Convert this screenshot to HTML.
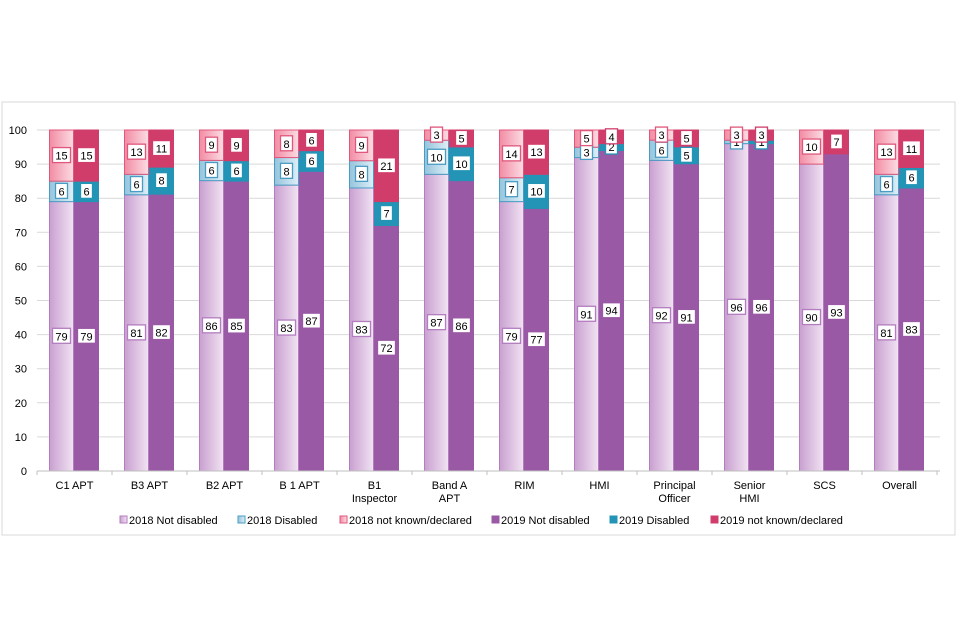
<!DOCTYPE html>
<html><head><meta charset="utf-8">
<style>
html,body{margin:0;padding:0;background:#fff;}
svg{display:block;font-family:"Liberation Sans","DejaVu Sans",sans-serif;}
</style></head>
<body>
<svg id="chart" width="960" height="640" viewBox="0 0 960 640">
<defs>
<linearGradient id="g18nd" x1="0" x2="1" y1="0" y2="0"><stop offset="0" stop-color="#C9A0D0"/><stop offset="1" stop-color="#F1E3F3"/></linearGradient>
<linearGradient id="g18d" x1="0" x2="1" y1="0" y2="0"><stop offset="0" stop-color="#95C4DC"/><stop offset="1" stop-color="#DDEFF7"/></linearGradient>
<linearGradient id="g18nk" x1="0" x2="1" y1="0" y2="0"><stop offset="0" stop-color="#F28CA4"/><stop offset="1" stop-color="#FCDCE3"/></linearGradient>
</defs>
<rect x="2" y="102" width="953" height="433" fill="#fff" stroke="#D9D9D9"/>
<g id="grid"></g>
<g id="bars"></g>
<g id="labels"></g>
<g id="axis"></g>
<g id="legend"></g>
</svg>
<script>
const categories = [["C1 APT"],["B3 APT"],["B2 APT"],["B 1 APT"],["B1","Inspector"],["Band A","APT"],["RIM"],["HMI"],["Principal","Officer"],["Senior","HMI"],["SCS"],["Overall"]];
const notDisabled2018 = [79,81,86,83,83,87,79,91,92,96,90,81];
const disabled2018 = [6,6,6,8,8,10,7,3,6,1,0,6];
const unknown2018 = [15,13,9,8,9,3,14,5,3,3,10,13];
const notDisabled2019 = [79,82,85,87,72,86,77,94,91,96,93,83];
const disabled2019 = [6,8,6,6,7,10,10,2,5,1,0,6];
const unknown2019 = [15,11,9,6,21,5,13,4,5,3,7,11];
const yTicks = [0,10,20,30,40,50,60,70,80,90,100];
const legendLabels = ["2018 Not disabled","2018 Disabled","2018 not known/declared","2019 Not disabled","2019 Disabled","2019 not known/declared"];

const NS="http://www.w3.org/2000/svg";
const X0=37, X1=940, Y0=471, Y100=130, GW=75;
const y=v=>Y0-(v/100)*(Y0-Y100);
const xc=i=>X0+GW*i+GW/2;
function mk(tag,attrs,parent){const e=document.createElementNS(NS,tag);for(const k in attrs)e.setAttribute(k,attrs[k]);parent.appendChild(e);return e;}
const grid=document.getElementById('grid'),bars=document.getElementById('bars'),labels=document.getElementById('labels'),axis=document.getElementById('axis'),legend=document.getElementById('legend');

yTicks.forEach(t=>{
  if(t>0){const l=mk('line',{x1:X0,x2:X1,y1:y(t),y2:y(t),stroke:'#D9D9D9','stroke-width':1},grid);
  
  }
  const tx=mk('text',{x:27,y:y(t)+4,'text-anchor':'end','font-size':11,fill:'#000'},axis);
  tx.textContent=t;
  
  
});
const base=mk('line',{x1:X0,x2:X1,y1:Y0,y2:Y0,stroke:'#BFBFBF'},axis);


for(let i=0;i<=categories.length;i++){
  const tk=mk('line',{x1:X0+GW*i,x2:X0+GW*i,y1:Y0,y2:Y0+4,stroke:'#BFBFBF'},axis);
  
  
}
categories.forEach((c,i)=>{
  c.forEach((ln,j)=>{
    const t=mk('text',{x:xc(i),y:489+j*13,'text-anchor':'middle','font-size':11,fill:'#000'},axis);
    t.textContent=ln;
    
    
  });
});

const series=[
 {d:notDisabled2018,fill:'url(#g18nd)',stroke:'#B37DBF',lbl:'#B37DBF',off:-25,name:'2018-not-disabled',yr:0},
 {d:disabled2018,fill:'url(#g18d)',stroke:'#4A9CC4',lbl:'#4A9CC4',off:-25,name:'2018-disabled',yr:0},
 {d:unknown2018,fill:'url(#g18nk)',stroke:'#E0577C',lbl:'#E0577C',off:-25,name:'2018-unknown',yr:0},
 {d:notDisabled2019,fill:'#9A59A5',stroke:'#9A59A5',lbl:'#9A59A5',off:0,name:'2019-not-disabled',yr:1},
 {d:disabled2019,fill:'#2394B6',stroke:'#2394B6',lbl:'#2394B6',off:0,name:'2019-disabled',yr:1},
 {d:unknown2019,fill:'#D13D6B',stroke:'#D13D6B',lbl:'#D13D6B',off:0,name:'2019-unknown',yr:1}
];
const totals=[0,1].map(yr=>categories.map((_,i)=>series.filter(s=>s.yr===yr).reduce((a,s)=>a+s.d[i],0)));
const cum=[categories.map(()=>0),categories.map(()=>0)];
series.forEach(s=>{
  s.d.forEach((v,i)=>{
    const tot=totals[s.yr][i]||1;
    const lo=cum[s.yr][i]/tot*100, hi=(cum[s.yr][i]+v)/tot*100;
    cum[s.yr][i]+=v;
    if(v<=0)return;
    const x=xc(i)+s.off;
    const r=mk('rect',{x:x,y:y(hi),width:24,height:y(lo)-y(hi),fill:s.fill,stroke:s.stroke,'stroke-width':1},bars);
    
    
    const cy=(y(lo)+y(hi))/2;
    const w=String(v).length>1?18:12;
    const b=mk('rect',{x:x+12-w/2,y:cy-8,width:w,height:15,fill:'#fff',stroke:s.lbl,'stroke-width':1.3},labels);
    
    
    const t=mk('text',{x:x+12,y:cy+4,'text-anchor':'middle','font-size':11,fill:'#000'},labels);
    t.textContent=v;
    
    
  });
});

const legX=[120,238,340,492,610,711];
const legFill=['url(#g18nd)','url(#g18d)','url(#g18nk)','#9A59A5','#2394B6','#D13D6B'];
const legStroke=['#B37DBF','#4A9CC4','#E0577C','#9A59A5','#2394B6','#D13D6B'];
legendLabels.forEach((l,i)=>{
  const g=mk('g',{},legend);
  
  
  mk('rect',{x:legX[i],y:516,width:7,height:7,fill:legFill[i],stroke:legStroke[i]},g);
  const t=mk('text',{x:legX[i]+9,y:524,'font-size':11,fill:'#000'},g);
  t.textContent=l;
});
</script>
</body></html>
